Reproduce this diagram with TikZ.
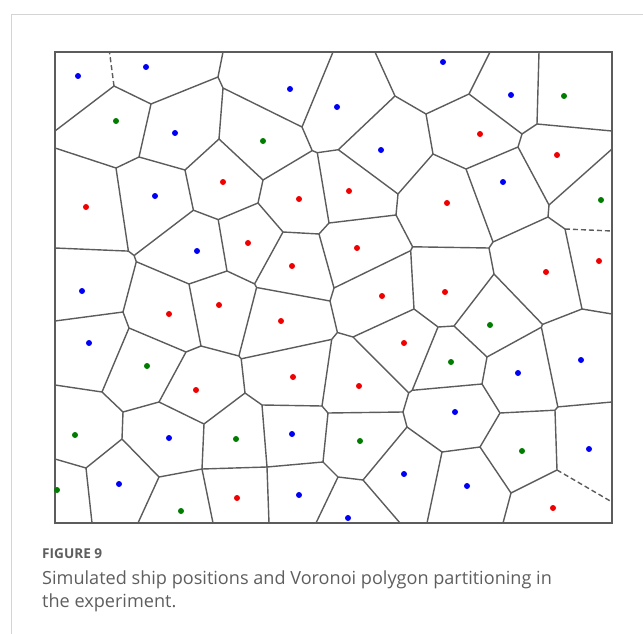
\documentclass[tikz,border=0pt]{standalone}
\usepackage{fontspec}
\setmainfont{Open Sans}
\definecolor{vgray}{HTML}{5C5C5C}
\definecolor{fgray}{HTML}{D4D4D4}
\definecolor{capgray}{HTML}{5E5E5E}
\definecolor{dotred}{RGB}{240,0,0}
\definecolor{dotblue}{RGB}{0,0,245}
\definecolor{dotgreen}{RGB}{0,125,0}
\begin{document}
\begin{tikzpicture}[x=1pt,y=-1pt,
  edge/.style={draw=vgray,line width=1.4pt,line cap=round,line join=round},
  dedge/.style={draw=vgray,line width=1.4pt,dash pattern=on 5pt off 3pt},
  dot/.style={circle,inner sep=0pt,minimum size=6pt,draw=none},
  rdot/.style={dot,fill=dotred},
  bdot/.style={dot,fill=dotblue},
  gdot/.style={dot,fill=dotgreen}]
\useasboundingbox (0,0) rectangle (643,634);
% outer frame
\coordinate (F1) at (11,634); \coordinate (F2) at (11,14); \coordinate (F3) at (643,14);
\draw[fgray,line width=0.8pt] (F1) -- (F2) -- (F3);
% plot box
\coordinate (BL) at (55,523); \coordinate (TR) at (612,52);
\draw[vgray,line width=1.1pt] (BL) rectangle (TR);
% border points
\coordinate (T1) at (109.5,52); \coordinate (T2) at (223,52); \coordinate (T3) at (333,52);
\coordinate (T4) at (375,52); \coordinate (T5) at (490,52); \coordinate (T6) at (539,52);
\coordinate (L1) at (55,131); \coordinate (L2) at (55,148); \coordinate (L3) at (55,248);
\coordinate (L4) at (55,321); \coordinate (L5) at (55,385); \coordinate (L6) at (55,459);
\coordinate (R1) at (612,131); \coordinate (R2) at (612,149); \coordinate (R3) at (612,231);
\coordinate (R4) at (612,314); \coordinate (R5) at (612,402); \coordinate (R6) at (612,502);
\coordinate (B1) at (92,523); \coordinate (B2) at (138,523); \coordinate (B3) at (213,523);
\coordinate (B4) at (269,523); \coordinate (B5) at (316,523); \coordinate (B6) at (400,523);
\coordinate (B7) at (427,523); \coordinate (B8) at (503,523);
% voronoi vertices
\coordinate (Va) at (114,86);   \coordinate (Vb) at (151,104);  \coordinate (Vc) at (218,77);
\coordinate (Vd) at (223,88);   \coordinate (Ve) at (219,139);  \coordinate (Vf) at (139,157);
\coordinate (Vg) at (116,168);  \coordinate (Vh) at (185,170);  \coordinate (Vi) at (193.4,210.2);
\coordinate (Vj) at (302,127);  \coordinate (Vk) at (312.2,150.6); \coordinate (Vk2) at (317.3,152.7);
\coordinate (Vl) at (338.3,149.7); \coordinate (Vm) at (395,96); \coordinate (Vn) at (426,114);
\coordinate (Vr) at (469,94);   \coordinate (Vv) at (522,134);  \coordinate (Vw) at (537,124);
\coordinate (Vx) at (518,147);  \coordinate (Vt) at (433,154);  \coordinate (Vu) at (466,169);
\coordinate (Vo) at (398,194);  \coordinate (Vy) at (549,205);  \coordinate (Vz) at (548,217);
\coordinate (Vaa) at (565,229); \coordinate (Vbb) at (582,309); \coordinate (Vcc) at (493,242);
\coordinate (Vdd) at (489,248); \coordinate (Vee) at (494,274); \coordinate (Vff1) at (542.5,324.4);
\coordinate (Vff2) at (541.4,327.2); \coordinate (Vgg) at (454,326); \coordinate (Vhh) at (438,327);
\coordinate (Vii) at (487,357); \coordinate (Vp) at (263,180);  \coordinate (Vq) at (258,203);
\coordinate (V14) at (218.2,219.6); \coordinate (V10a) at (128.4,251.1); \coordinate (V10b) at (134.1,255.5);
\coordinate (V11) at (136.3,261.7); \coordinate (V12) at (189,284); \coordinate (V15) at (227,271);
\coordinate (V20) at (283,232); \coordinate (V21) at (319,234); \coordinate (V23) at (329,223);
\coordinate (V25) at (396,215); \coordinate (V26b) at (412.6,246.8); \coordinate (V26a) at (410.7,250.6);
\coordinate (V24) at (334,288); \coordinate (V22a) at (254.6,283.9); \coordinate (V22b) at (256.6,287.5);
\coordinate (V28) at (330,301); \coordinate (V29) at (337.4,332.5); \coordinate (V30) at (353,337);
\coordinate (V31) at (331.7,339.4); \coordinate (V27) at (414,309); \coordinate (V13) at (123,312);
\coordinate (V17) at (129,328); \coordinate (V18) at (186,352); \coordinate (V16) at (201,346);
\coordinate (V19) at (238.9,356); \coordinate (V19b) at (241.2,358.8);
\coordinate (V40) at (102,392); \coordinate (V41) at (123,412); \coordinate (V42) at (159,402);
\coordinate (V43) at (204,424); \coordinate (V44) at (245,393); \coordinate (V45) at (122,439);
\coordinate (V46) at (86,468);  \coordinate (V47) at (159,477); \coordinate (V48) at (202,469);
\coordinate (V50) at (262,405); \coordinate (V51) at (322,406); \coordinate (V52) at (328,413);
\coordinate (V53) at (403,412); \coordinate (V54a) at (408.7,392.9); \coordinate (V54b) at (412.2,390.3);
\coordinate (V55) at (407,427); \coordinate (V56) at (323,462); \coordinate (V57) at (267,467);
\coordinate (V58) at (338,477); \coordinate (V59) at (363,480); \coordinate (V60) at (482,384);
\coordinate (V61) at (500,413); \coordinate (V62a) at (557.8,406.9); \coordinate (V62b) at (555,410.2);
\coordinate (V63) at (557,470); \coordinate (V64) at (511,493); \coordinate (V65) at (480,447);
\coordinate (V66) at (442,452);
% edges
\draw[edge] (Va)--(L1) (Va)--(Vb) (Vb)--(Vc) (Vc)--(T2) (Vc)--(Vd) (Vd)--(Vj) (Vd)--(Ve)
  (Vb)--(Vf) (Vf)--(Vg) (Vg)--(L2) (Vf)--(Vh) (Ve)--(Vh) (Vh)--(Vi) (Ve)--(Vp)
  (Vj)--(T3) (Vj)--(Vk) (Vk)--(Vp) (Vk)--(Vk2) (Vk2)--(Vl) (Vk2)--(V23) (Vl)--(Vm)
  (Vm)--(T4) (Vm)--(Vn) (Vl)--(Vo) (Vn)--(Vr) (Vr)--(T5) (Vr)--(Vv) (Vv)--(Vw)
  (Vw)--(T6) (Vw)--(R1) (Vv)--(Vx) (Vx)--(Vu) (Vu)--(Vt) (Vt)--(Vn) (Vt)--(Vo)
  (Vx)--(Vy) (Vy)--(R2) (Vu)--(Vcc) (Vy)--(Vz) (Vz)--(Vaa) (Vz)--(Vcc) (Vaa)--(Vbb)
  (Vbb)--(R4) (Vbb)--(Vff1) (Vcc)--(Vdd) (Vdd)--(V26b) (Vdd)--(Vee) (Vee)--(Vff1)
  (Vee)--(Vgg) (Vff1)--(Vff2) (Vff2)--(Vii) (Vff2)--(V62a) (Vgg)--(Vhh) (Vgg)--(Vii)
  (Vhh)--(V27) (Vhh)--(V54b) (Vii)--(V60) (Vo)--(V25) (Vp)--(Vq) (Vq)--(V14) (Vq)--(V20)
  (Vi)--(V14) (Vi)--(V10b) (Vg)--(V10a) (V10a)--(L3) (V10a)--(V10b) (V10b)--(V11)
  (V11)--(V12) (V11)--(V13) (V12)--(V15) (V14)--(V15) (V15)--(V22a) (V20)--(V21)
  (V20)--(V22a) (V21)--(V23) (V21)--(V24) (V23)--(V25) (V25)--(V26b) (V26b)--(V26a)
  (V26a)--(V24) (V26a)--(V27) (V24)--(V28) (V22a)--(V22b) (V22b)--(V28) (V22b)--(V19)
  (V28)--(V29) (V29)--(V30) (V29)--(V31) (V30)--(V27) (V30)--(V54a) (V31)--(V19b)
  (V31)--(V51) (V13)--(L4) (V13)--(V17) (V12)--(V16) (V17)--(V18) (V18)--(V16)
  (V16)--(V19) (V19)--(V19b) (V17)--(V40) (V18)--(V42) (V19b)--(V44) (V40)--(L5)
  (V40)--(V41) (V41)--(V42) (V41)--(V45) (V42)--(V43) (V43)--(V44) (V43)--(V48)
  (V44)--(V50) (V45)--(V46) (V45)--(V47) (V46)--(L6) (V46)--(B1) (V47)--(V48)
  (V47)--(B2) (V48)--(V57) (V48)--(B3) (V50)--(V51) (V50)--(V57) (V51)--(V52)
  (V52)--(V53) (V52)--(V56) (V53)--(V54a) (V53)--(V55) (V54a)--(V54b) (V54b)--(V60)
  (V55)--(V59) (V55)--(V66) (V56)--(V57) (V56)--(V58) (V57)--(B4) (V58)--(V59)
  (V58)--(B5) (V59)--(B6) (V60)--(V61) (V61)--(V62b) (V61)--(V65) (V62a)--(V62b)
  (V62a)--(R5) (V62b)--(V63) (V63)--(V64) (V64)--(V65) (V64)--(B8) (V65)--(V66)
  (V66)--(B7);
\draw[dedge] (Va)--(T1) (Vaa)--(R3) (V63)--(R6);
% ship positions
\node[bdot] (s1) at (78,76) {};   \node[bdot] (s2) at (146,67) {};  \node[bdot] (s3) at (290,89) {};
\node[bdot] (s4) at (337,107) {}; \node[bdot] (s5) at (443,62) {};  \node[bdot] (s6) at (511,95) {};
\node[gdot] (s7) at (564,96) {};  \node[gdot] (s8) at (116,121) {}; \node[bdot] (s9) at (175,133) {};
\node[gdot] (s10) at (263,141) {}; \node[bdot] (s11) at (381,150) {}; \node[rdot] (s12) at (480,134) {};
\node[rdot] (s13) at (557,155) {}; \node[rdot] (s14) at (223,182) {}; \node[rdot] (s15) at (349,191) {};
\node[rdot] (s16) at (299,199) {}; \node[bdot] (s17) at (155,196) {}; \node[rdot] (s18) at (86,207) {};
\node[bdot] (s19) at (503,182) {}; \node[rdot] (s20) at (447,203) {}; \node[gdot] (s21) at (601,200) {};
\node[bdot] (s22) at (197,251) {}; \node[rdot] (s23) at (248,243) {}; \node[rdot] (s24) at (292,266) {};
\node[rdot] (s25) at (357,248) {}; \node[rdot] (s26) at (546,272) {}; \node[rdot] (s27) at (599,261) {};
\node[bdot] (s28) at (82,291) {};  \node[rdot] (s29) at (169,314) {}; \node[rdot] (s30) at (219,305) {};
\node[rdot] (s31) at (281,321) {}; \node[rdot] (s32) at (382,296) {}; \node[rdot] (s33) at (445,292) {};
\node[gdot] (s34) at (490,325) {}; \node[bdot] (s35) at (89,343) {};  \node[rdot] (s36) at (404,343) {};
\node[gdot] (s37) at (147,366) {}; \node[gdot] (s38) at (451,362) {}; \node[bdot] (s39) at (581,360) {};
\node[rdot] (s40) at (196,390) {}; \node[rdot] (s41) at (293,377) {}; \node[rdot] (s42) at (359,386) {};
\node[bdot] (s43) at (518,373) {}; \node[bdot] (s44) at (455,412) {}; \node[gdot] (s45) at (75,435) {};
\node[bdot] (s46) at (169,438) {}; \node[gdot] (s47) at (236,439) {}; \node[bdot] (s48) at (292,434) {};
\node[gdot] (s49) at (360,441) {}; \node[bdot] (s50) at (404,474) {}; \node[gdot] (s51) at (522,451) {};
\node[bdot] (s52) at (589,449) {}; \node[gdot] (s53) at (57,490) {};  \node[bdot] (s54) at (119,484) {};
\node[gdot] (s55) at (181,511) {}; \node[rdot] (s56) at (237,498) {}; \node[bdot] (s57) at (299,495) {};
\node[bdot] (s58) at (348,518) {}; \node[bdot] (s59) at (467,486) {}; \node[rdot] (s60) at (553,508) {};
% caption
\node[anchor=base west,inner sep=0pt,text=capgray,font=\fontsize{13.6}{16}\selectfont\bfseries] (fig) at (42,558) {FIGURE 9};
\node[anchor=base west,inner sep=0pt,text=capgray,font=\fontsize{18.1}{22}\selectfont] (cap1) at (42,584.5) {Simulated ship positions and Voronoi polygon partitioning in};
\node[anchor=base west,inner sep=0pt,text=capgray,font=\fontsize{18.1}{22}\selectfont] (cap2) at (42,607) {the experiment.};
\end{tikzpicture}
\end{document}
